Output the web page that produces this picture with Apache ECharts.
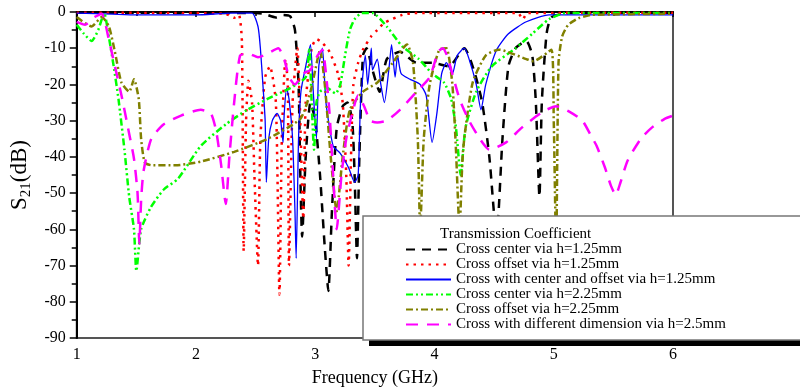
<!DOCTYPE html>
<html><head><meta charset="utf-8">
<script src="https://cdn.jsdelivr.net/npm/echarts@6/dist/echarts.min.js"></script>
<style>html,body{margin:0;padding:0;background:#fff}#c{width:800px;height:392px}</style>
</head><body><div id="c"></div>
<script>
const FONT = "'Liberation Serif','Times New Roman',serif";

// Frequency axis ticks (GHz) and S21 ticks (dB)
const xTicks = [1, 2, 3, 4, 5, 6];
const yTicks = [-90, -80, -70, -60, -50, -40, -30, -20, -10, 0];

const seriesNames = [
  'Cross center via h=1.25mm',
  'Cross offset via h=1.25mm',
  'Cross with center and offset via h=1.25mm',
  'Cross center via h=2.25mm',
  'Cross offset via h=2.25mm',
  'Cross with different dimension via h=2.5mm'
];

const blackF = [1.0,1.5,2.0,2.5,2.57,2.67,2.73,2.79,2.83,2.86,2.875,2.89,2.92,2.96,3.0,3.04,3.08,3.11,3.14,3.18,3.23,3.27,3.31,3.33,3.35,3.37,3.4,3.43,3.48,3.54,3.6,3.71,3.85,3.98,4.12,4.25,4.33,4.4,4.46,4.52,4.57,4.62,4.68,4.77,4.82,4.85,4.88,4.9,4.94,4.98,5.12,6.0];
const blackS = [-0.2,-0.2,-0.3,-0.3,-0.5,-1.5,-0.8,-1.2,-5,-20,-45,-62,-40,-25,-30,-45,-65,-77,-55,-32,-26,-25,-30,-45,-68,-40,-12,-10,-16,-22,-13,-11,-14,-14,-15,-10,-16,-25,-40,-62,-35,-15,-10,-8,-12,-25,-51,-25,-6,-1.5,-0.3,-0.2];

const redF = [1.0,2.0,2.25,2.32,2.36,2.385,2.4,2.42,2.44,2.47,2.49,2.52,2.54,2.58,2.62,2.67,2.7,2.72,2.75,2.77,2.78,2.81,2.85,2.87,2.9,2.92,2.97,3.01,3.06,3.12,3.19,3.23,3.26,3.28,3.3,3.32,3.36,3.4,3.47,3.52,3.58,3.73,3.83,4.7,4.74,4.78,6.0];
const redS = [-0.2,-0.3,-0.5,-1.6,-0.8,-8,-66,-30,-19,-25,-45,-70,-35,-18,-15,-25,-78,-35,-13,-20,-70,-25,-10,-25,-57,-25,-10,-7.5,-8.5,-11,-17,-25,-45,-70,-40,-20,-14,-10.4,-6.7,-5,-3,-0.8,-0.3,-0.3,-2,-0.3,-0.2];

const blueF = [1.0,1.3,1.5,2.0,2.3,2.47,2.52,2.54,2.56,2.58,2.59,2.61,2.64,2.68,2.71,2.73,2.74,2.76,2.78,2.81,2.83,2.84,2.86,2.88,2.92,2.96,2.98,3.01,3.03,3.06,3.09,3.15,3.21,3.28,3.33,3.36,3.38,3.42,3.44,3.47,3.48,3.52,3.55,3.58,3.62,3.64,3.67,3.69,3.72,3.79,3.88,3.93,3.98,4.02,4.06,4.1,4.15,4.19,4.25,4.29,4.35,4.39,4.43,4.52,4.62,4.77,4.96,6.0];
const blueS = [-0.3,-0.6,-0.8,-0.8,-0.3,-0.3,-4,-10,-19.5,-30,-47,-35,-30,-28,-30,-36,-28,-21,-24,-35,-55,-68,-35,-22,-15,-9,-20,-35,-15,-10,-25,-37,-39,-43,-47,-45,-25,-12,-20,-10,-16,-13,-20,-25,-15,-9,-18,-12,-17,-18.5,-20,-23,-36,-28,-17,-14,-17,-12,-10,-13,-20,-27,-20,-10.5,-6,-2.7,-0.8,-0.8];

const greenF = [1.0,1.06,1.125,1.18,1.23,1.27,1.31,1.35,1.4,1.44,1.48,1.5,1.54,1.62,1.73,1.85,2.04,2.25,2.43,2.6,2.79,2.92,2.95,2.97,2.99,3.01,3.04,3.1,3.17,3.21,3.25,3.29,3.33,3.39,3.48,3.6,3.73,3.87,3.98,4.08,4.14,4.18,4.22,4.26,4.35,4.48,4.68,4.82,4.96,5.1,6.0];
const greenS = [-3.5,-6,-8,-5,-0.3,-7,-15,-24,-38,-51,-60,-71.5,-60,-54,-49,-46,-37,-31,-27,-24,-21,-18,-10,-25,-38,-25,-22,-21,-22.5,-20,-12,-5,-2,-0.3,-0.3,-4,-9.5,-13,-17,-19.5,-24,-32,-45,-32,-22,-15,-10,-6,-2,-0.3,-0.3];

const oliveF = [1.0,1.125,1.21,1.27,1.32,1.375,1.44,1.48,1.52,1.54,1.57,1.625,1.83,2.04,2.32,2.6,2.875,2.96,3.0,3.04,3.08,3.13,3.18,3.23,3.29,3.4,3.52,3.65,3.77,3.82,3.86,3.88,3.91,3.96,4.04,4.1,4.15,4.18,4.21,4.24,4.32,4.43,4.54,4.77,4.83,4.98,5.0,5.02,5.04,5.07,5.12,5.21,5.32,6.0];
const oliveS = [-1.4,-4,-1.4,-4,-11,-19.5,-22,-18.6,-24,-35,-41.5,-42.3,-42.3,-41.3,-38.6,-35,-29.5,-22,-16,-10.5,-20,-40,-55,-40,-27,-22,-19.5,-14,-9,-14,-35,-60,-35,-20,-10.4,-10,-20,-38,-60,-38,-19.5,-12,-10.4,-13,-13.6,-10.4,-30,-66,-14,-6.8,-3.6,-1.7,-0.8,-0.5];

const magentaF = [1.0,1.07,1.15,1.21,1.27,1.32,1.375,1.43,1.48,1.51,1.525,1.54,1.56,1.625,1.73,1.875,2.04,2.125,2.17,2.21,2.25,2.28,2.32,2.37,2.44,2.52,2.6,2.69,2.74,2.78,2.83,2.9,2.96,3.02,3.06,3.09,3.12,3.15,3.18,3.22,3.26,3.31,3.36,3.41,3.46,3.52,3.6,3.71,3.85,3.96,4.03,4.07,4.11,4.21,4.29,4.38,4.46,4.6,4.73,4.9,5.02,5.13,5.24,5.31,5.36,5.43,5.48,5.52,5.56,5.62,5.73,5.82,5.93,6.0];
const magentaS = [-2.7,-3.5,-1.4,-0.5,-7.7,-15,-23,-32,-40.5,-50,-64,-52,-44,-35,-31,-28.6,-27,-28,-33,-42,-53,-40,-25,-12,-11.5,-12.5,-11.5,-10,-13,-18,-20,-17,-16,-12,-10.4,-17,-28,-45,-60,-45,-35,-28,-23,-26,-30,-30.5,-30,-27,-22,-18,-11,-10,-12.5,-24,-30,-35,-38,-36,-32,-27.7,-26,-27.5,-30,-34,-37,-43,-48,-50.5,-47,-41,-35,-32,-29.5,-28.6];

function zip(f, s) { return f.map((v, i) => [v, s[i]]); }

function mk(name, f, s, color, type, width) {
  return {
    name, type: 'line', data: zip(f, s), symbol: 'none', showSymbol: false,
    smooth: 0.2, clip: true, animation: false,
    lineStyle: { color, type, width, cap: 'butt' }, itemStyle: { color }
  };
}

const chart = echarts.init(document.getElementById('c'), null, { renderer: 'canvas' });
const option = {
  animation: false,
  backgroundColor: '#fff',
  grid: { left: 75, right: 127, top: 12, bottom: 51, show: true, borderColor: '#555', borderWidth: 2, backgroundColor: 'rgba(0,0,0,0)' },
  xAxis: {
    type: 'value', min: xTicks[0], max: xTicks[xTicks.length - 1], interval: 1,
    axisLine: { lineStyle: { color: '#000', width: 2 } },
    axisTick: { length: 5, lineStyle: { color: '#000', width: 1.5 } },
    minorTick: { show: true, splitNumber: 2, length: 4, lineStyle: { color: '#000', width: 1.5 } },
    splitLine: { show: false },
    axisLabel: { color: '#000', fontFamily: FONT, fontSize: 16, margin: 9 },
    name: 'Frequency (GHz)', nameLocation: 'middle', nameGap: 31,
    nameTextStyle: { color: '#000', fontFamily: FONT, fontSize: 18 }
  },
  yAxis: {
    type: 'value', min: yTicks[0], max: yTicks[yTicks.length - 1], interval: 10,
    axisLine: { lineStyle: { color: '#000', width: 2 } },
    axisTick: { length: 7, lineStyle: { color: '#000', width: 1.5 } },
    minorTick: { show: true, splitNumber: 2, length: 5, lineStyle: { color: '#000', width: 1.5 } },
    splitLine: { show: false },
    axisLabel: { color: '#000', fontFamily: FONT, fontSize: 16, margin: 11 },
    name: '{a|S}{b|21}{a|(dB)}', nameLocation: 'middle', nameGap: 42,
    nameTextStyle: {
      color: '#000', fontFamily: FONT, fontSize: 23,
      rich: {
        a: { fontSize: 23, fontFamily: FONT, color: '#000', lineHeight: 28, verticalAlign: 'middle' },
        b: { fontSize: 15, fontFamily: FONT, color: '#000', lineHeight: 4, verticalAlign: 'bottom' }
      }
    }
  },
  title: {
    text: 'Transmission Coefficient', left: 440, top: 227, padding: 0, z: 60,
    textStyle: { fontFamily: FONT, fontSize: 15, fontWeight: 'normal', color: '#000' }
  },
  legend: {
    data: seriesNames, orient: 'vertical', left: 405, top: 242, padding: 0,
    itemWidth: 45, itemHeight: 8, itemGap: 0, selectedMode: false, z: 60,
    itemStyle: { opacity: 0 },
    textStyle: { fontFamily: FONT, fontSize: 15, lineHeight: 14, color: '#000' }
  },
  graphic: [
    { type: 'rect', z: 50, silent: true, shape: { x: 369, y: 221, width: 460, height: 125 }, style: { fill: '#000' } },
    { type: 'rect', z: 51, silent: true, shape: { x: 363, y: 216, width: 460, height: 124 }, style: { fill: '#fff', stroke: '#777', lineWidth: 1.5 } }
  ],
  series: [
    mk(seriesNames[0], blackF, blackS, '#000000', [9, 7], 2.5),
    mk(seriesNames[1], redF, redS, '#ff0000', [2.5, 5], 2.5),
    mk(seriesNames[2], blueF, blueS, '#0000ff', 'solid', 1.3),
    mk(seriesNames[3], greenF, greenS, '#00ff00', [7, 3, 2, 3, 2, 3], 2.5),
    mk(seriesNames[4], oliveF, oliveS, '#808000', [7, 3, 2, 3], 2.5),
    mk(seriesNames[5], magentaF, magentaS, '#ff00ff', [12, 9], 2.5)
  ]
};
chart.setOption(option);
</script>
</body></html>
